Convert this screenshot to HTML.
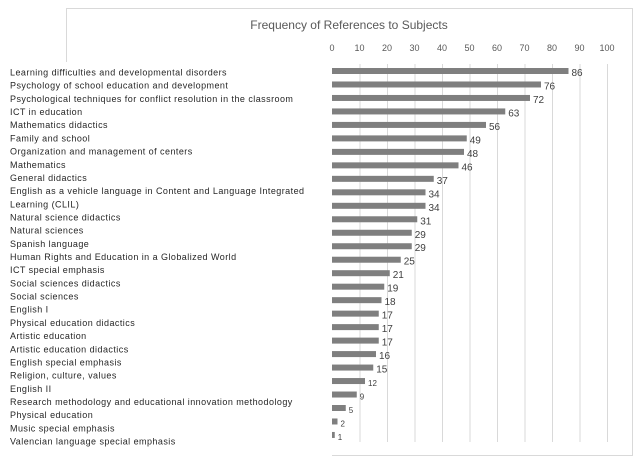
<!DOCTYPE html>
<html><head><meta charset="utf-8"><style>
body{margin:0;background:#fff;}
svg{display:block;font-family:"Liberation Sans",Arial,sans-serif;}
</style></head><body>
<svg width="641" height="464">
<g id="frame">
<line x1="66" y1="8.5" x2="633" y2="8.5" stroke="#d9d9d9"/>
<line x1="66.5" y1="8" x2="66.5" y2="62" stroke="#d9d9d9"/>
<line x1="632.5" y1="8" x2="632.5" y2="456" stroke="#d9d9d9"/>
<line x1="332" y1="455.5" x2="633" y2="455.5" stroke="#d9d9d9"/>
</g>
<text x="349" y="29" text-anchor="middle" font-size="12" fill="#595959">Frequency of References to Subjects</text>
<g id="grid"></g><g id="ticks"></g><g id="bars"></g><g id="vals"></g><g id="labels"></g>
</svg>
<script>
const categories=["Learning difficulties and developmental disorders","Psychology of school education and development","Psychological techniques for conflict resolution in the classroom","ICT in education","Mathematics didactics","Family and school","Organization and management of centers","Mathematics","General didactics","English as a vehicle language in Content and Language Integrated\nLearning (CLIL)","Natural science didactics","Natural sciences","Spanish language","Human Rights and Education in a Globalized World","ICT special emphasis","Social sciences didactics","Social sciences","English I","Physical education didactics","Artistic education","Artistic education didactics","English special emphasis","Religion, culture, values","English II","Research methodology and educational innovation methodology","Physical education","Music special emphasis","Valencian language special emphasis"];
const values=[86,76,72,63,56,49,48,46,37,34,34,31,29,29,25,21,19,18,17,17,17,16,15,12,9,5,2,1];
const tickValues=[0,10,20,30,40,50,60,70,80,90,100];
const NS="http://www.w3.org/2000/svg";
const x0=332,x1=607,yTop=64,yBot=442;
const xs=v=>x0+(v/100)*(x1-x0);
const barY=i=>71+i*13.48;
function mk(t,a,p){const e=document.createElementNS(NS,t);for(const k in a)e.setAttribute(k,a[k]);p.appendChild(e);return e;}
const grid=document.getElementById('grid'),ticks=document.getElementById('ticks');
tickValues.forEach(v=>{
 if(v>0){const l=mk('line',{x1:xs(v)+.5,x2:xs(v)+.5,y1:yTop,y2:yBot,stroke:'#d9d9d9'},grid);
 
 }
 const t=mk('text',{x:xs(v),y:51,'text-anchor':'middle','font-size':9,fill:'#595959'},ticks);
 t.textContent=v;
 
 
});
const bars=document.getElementById('bars'),vals=document.getElementById('vals'),labels=document.getElementById('labels');
values.forEach((v,i)=>{
 const y=barY(i);
 const r=mk('rect',{x:x0,y:y-3,width:xs(v)-x0,height:6,fill:'#7f7f7f'},bars);
 
 
 const t=mk('text',{x:xs(v)+3,y:y+5,'font-size':v<13?8:10,fill:'#404040'},vals);
 t.textContent=v;
 
 
});
let line=0;
categories.forEach((c,i)=>{
 c.split('\n').forEach(part=>{
  const t=mk('text',{x:10,y:75.5+line*13.18,'font-size':9,fill:'#262626','letter-spacing':0.45},labels);
  t.textContent=part;
  
  
  line++;
 });
});
</script>
</body></html>
